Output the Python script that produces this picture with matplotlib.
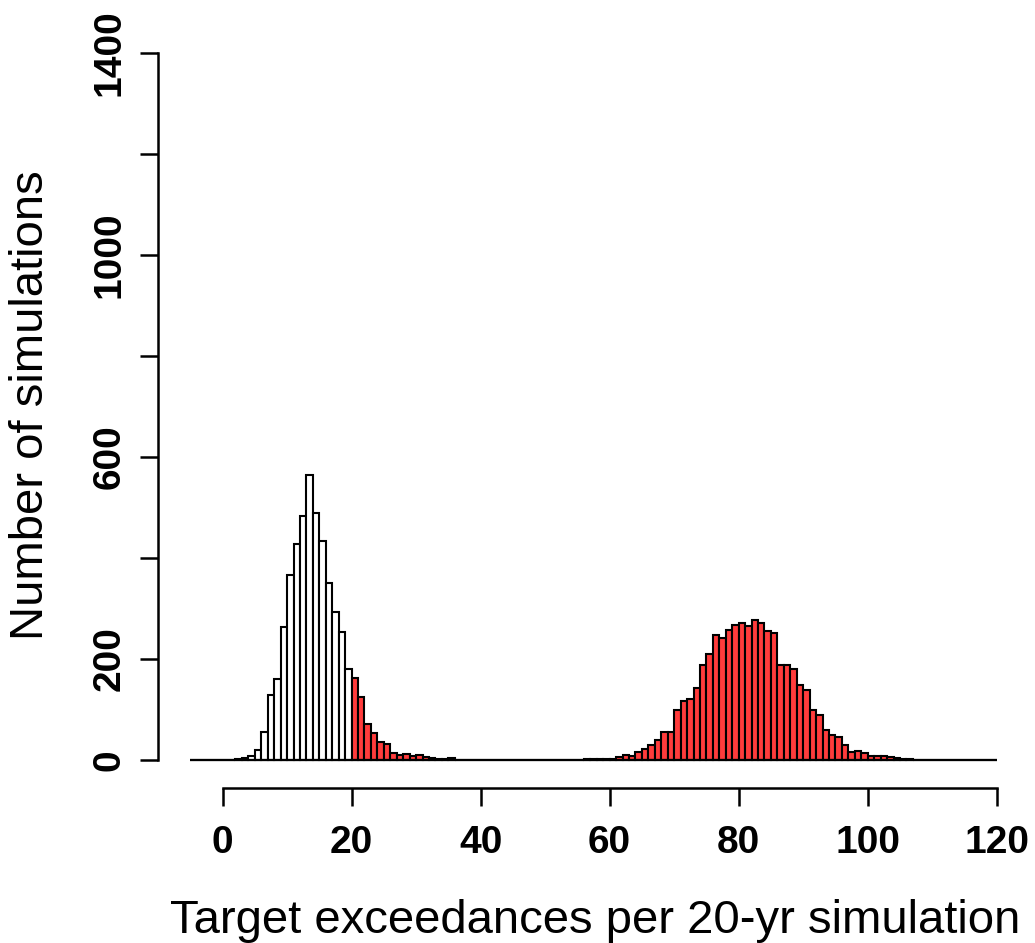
import numpy as np
import matplotlib
matplotlib.use("Agg")
import matplotlib.pyplot as plt

plt.rcParams["font.family"] = ["Liberation Sans", "DejaVu Sans"]

# exceedance counts (integer bins, width 1) and number of simulations in each
low_bins = list(range(2, 36))
low_counts = [1, 3, 8, 20, 55, 128, 160, 263, 366, 427, 482, 563, 489, 433,
              351, 293, 252, 180, 162, 125, 70, 52, 36, 31, 14, 9, 11, 7, 9,
              5, 3, 2, 2, 3]
high_bins = list(range(56, 107))
high_counts = [1, 1, 1, 1, 2, 5, 10, 8, 16, 21, 30, 40, 54, 54, 99, 116, 120,
               143, 187, 210, 247, 241, 256, 267, 271, 264, 277, 270, 254, 251,
               188, 187, 180, 148, 138, 99, 89, 58, 48, 44, 30, 15, 17, 13, 8,
               7, 7, 5, 3, 2, 2]
target = 20
hist_range = (-5, 120)

edges = np.arange(hist_range[0], hist_range[1])
counts = np.zeros(len(edges))
for b, c in zip(low_bins + high_bins, low_counts + high_counts):
    counts[b - hist_range[0]] = c
colors = ["white" if e < target else "#ff3c3c" for e in edges]

fig = plt.figure(figsize=(10.35, 9.43), dpi=100)
ax = fig.add_axes([0.1527, 0.1644, 0.8415, 0.8094])

ax.bar(edges, counts, width=1, align="edge", color=colors,
       edgecolor="black", linewidth=1.5)
ax.hlines(0, hist_range[0], hist_range[1], color="black", linewidth=1.6)

ax.set_xlim(-10, 125)
ax.set_ylim(-56, 1456)
for s in ["top", "right"]:
    ax.spines[s].set_visible(False)
ax.spines["left"].set_bounds(0, 1400)
ax.spines["bottom"].set_bounds(0, 120)
for s in ["left", "bottom"]:
    ax.spines[s].set_linewidth(1.8)

ax.set_xticks(range(0, 121, 20))
ax.set_yticks(range(0, 1401, 200))
ax.set_yticklabels(["0", "200", "", "600", "", "1000", "", "1400"])
ax.tick_params(axis="both", length=13, width=1.8, labelsize=28)
ax.tick_params(axis="x", pad=14)
ax.tick_params(axis="y", pad=9)
for lab in ax.get_xticklabels() + ax.get_yticklabels():
    lab.set_fontweight("bold")
plt.setp(ax.get_yticklabels(), rotation=90, va="center")

fig.text(0.575, 0.0106, "Target exceedances per 20-yr simulation",
         fontsize=34, ha="center", va="baseline")
fig.text(0.03, 0.57, "Number of simulations", fontsize=34,
         rotation=90, ha="center", va="center")

fig.savefig("out.png", dpi=100)
